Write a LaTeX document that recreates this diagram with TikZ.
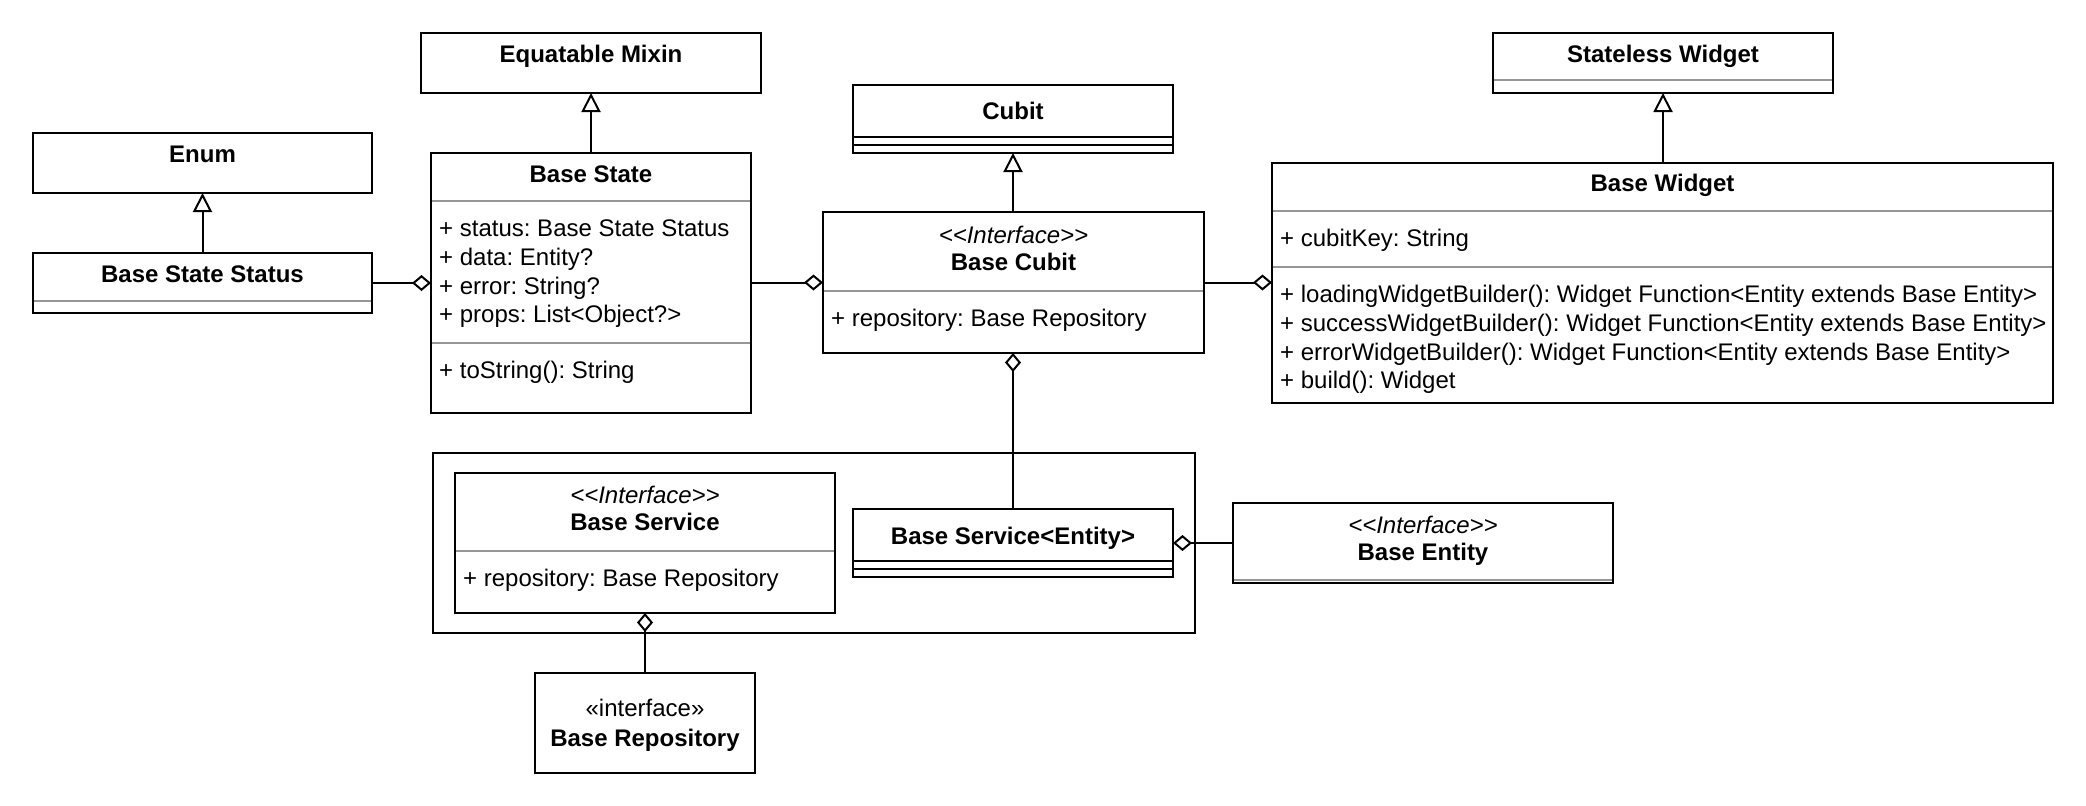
\documentclass[tikz,border=0pt]{standalone}
\usepackage{fontspec}
\setmainfont{Liberation Sans}
\usetikzlibrary{arrows.meta}
\definecolor{sepgray}{RGB}{150,150,150}
\newcommand{\stlt}{\textless\kern0pt\textless}
\newcommand{\stgt}{\textgreater\kern0pt\textgreater}
\begin{document}
\frenchspacing
\begin{tikzpicture}[x=1pt,y=-1pt,
  box/.style={draw=black, line width=2pt, inner sep=0pt, outer sep=0pt, anchor=north west, fill=white},
  sepline/.style={line width=2pt, draw=sepgray},
  blackline/.style={line width=2pt, draw=black},
  title/.style={font=\bfseries\fontsize{24}{28.8}\selectfont, anchor=base, inner sep=0pt},
  stereo/.style={font=\itshape\fontsize{24}{28.8}\selectfont, anchor=base, inner sep=0pt},
  plainc/.style={font=\fontsize{24}{28.8}\selectfont, anchor=base, inner sep=0pt},
  attr/.style={font=\fontsize{24}{28.8}\selectfont, anchor=base west, inner sep=0pt},
  inh/.style={line width=2pt, -{Triangle[open, length=19pt, width=19pt]}},
  agg/.style={line width=2pt, -{Diamond[open, length=19pt, width=16pt]}}
]
\useasboundingbox (0,0) rectangle (2086,806);

% package frame
\node[box, minimum width=762pt, minimum height=180pt] (frame) at (433,453) {};

% Enum
\node[box, minimum width=339pt, minimum height=60pt] (enum) at (33,133) {};
\node[title] (enumt) at (202.5,162.5) {Enum};

% Base State Status
\node[box, minimum width=339pt, minimum height=60pt] (bss) at (33,253) {};
\draw[sepline] (34,301) -- (371,301);
\node[title] (bsst) at (202.5,282.5) {Base State Status};

% Equatable Mixin
\node[box, minimum width=340pt, minimum height=60pt] (em) at (421,33) {};
\node[title] (emt) at (591,62.5) {Equatable Mixin};

% Base State
\node[box, minimum width=320pt, minimum height=260pt] (bstate) at (431,153) {};
\node[title] (bstatet) at (591,182.5) {Base State};
\draw[sepline] (432,201) -- (750,201);
\node[attr] (bsa1) at (439,236.5) {+ status: Base State Status};
\node[attr] (bsa2) at (439,265.3) {+ data: Entity?};
\node[attr] (bsa3) at (439,294.1) {+ error: String?};
\node[attr] (bsa4) at (439,322.9) {+ props: List\textless Object?\textgreater};
\draw[sepline] (432,343) -- (750,343);
\node[attr] (bsm1) at (439,378.5) {+ toString(): String};

% Cubit
\node[box, minimum width=320pt, minimum height=68pt] (cubit) at (853,85) {};
\node[title] (cubitt) at (1013,119.5) {Cubit};
\draw[blackline] (853,137) -- (1173,137);
\draw[blackline] (853,145) -- (1173,145);

% Base Cubit
\node[box, minimum width=381pt, minimum height=141pt] (bcubit) at (823,212) {};
\node[stereo] (bcubits) at (1013.5,243.5) {\stlt Interface\stgt};
\node[title] (bcubitt) at (1013.5,270.5) {Base Cubit};
\draw[sepline] (824,291) -- (1203,291);
\node[attr] (bca1) at (831,326.5) {+ repository: Base Repository};

% Stateless Widget
\node[box, minimum width=340pt, minimum height=60pt] (sw) at (1493,33) {};
\node[title] (swt) at (1663,62.5) {Stateless Widget};
\draw[sepline] (1494,80) -- (1832,80);

% Base Widget
\node[box, minimum width=781pt, minimum height=240pt] (bwidget) at (1272,163) {};
\node[title] (bwidgett) at (1662.5,191.5) {Base Widget};
\draw[sepline] (1273,211) -- (2052,211);
\node[attr] (bwa1) at (1280,246.5) {+ cubitKey: String};
\draw[sepline] (1273,267) -- (2052,267);
\node[attr] (bwm1) at (1280,302.5) {+ loadingWidgetBuilder(): Widget Function\textless Entity extends Base Entity\textgreater};
\node[attr] (bwm2) at (1280,331.3) {+ successWidgetBuilder(): Widget Function\textless Entity extends Base Entity\textgreater};
\node[attr] (bwm3) at (1280,360.1) {+ errorWidgetBuilder(): Widget Function\textless Entity extends Base Entity\textgreater};
\node[attr] (bwm4) at (1280,388.9) {+ build(): Widget};

% Base Service
\node[box, minimum width=380pt, minimum height=140pt] (bservice) at (455,473) {};
\node[stereo] (bservices) at (645,503.5) {\stlt Interface\stgt};
\node[title] (bservicet) at (645,530.5) {Base Service};
\draw[sepline] (456,551) -- (834,551);
\node[attr] (bsva1) at (463,586.5) {+ repository: Base Repository};

% Base Service<Entity>
\node[box, minimum width=320pt, minimum height=68pt] (bse) at (853,509) {};
\node[title] (bset) at (1013,544.5) {Base Service\textless Entity\textgreater};
\draw[blackline] (853,561) -- (1173,561);
\draw[blackline] (853,569) -- (1173,569);

% Base Entity
\node[box, minimum width=380pt, minimum height=80pt] (bentity) at (1233,503) {};
\node[stereo] (bentitys) at (1423,533.5) {\stlt Interface\stgt};
\node[title] (bentityt) at (1423,560.5) {Base Entity};
\draw[sepline] (1234,580) -- (1612,580);

% Base Repository
\node[box, minimum width=220pt, minimum height=100pt] (brepo) at (535,673) {};
\node[plainc] (brepos) at (645,716.5) {«interface»};
\node[title] (brepot) at (645,746.5) {Base Repository};

% inheritance
\draw[inh] (bss.north -| enum.south) -- (enum.south);
\draw[inh] (bstate.north) -- (em.south);
\draw[inh] (cubit.south |- bcubit.north) -- (cubit.south);
\draw[inh] (bwidget.north -| sw.south) -- (sw.south);

% aggregation
\draw[agg] (bss.east) -- (bss.east -| bstate.west);
\draw[agg] (bstate.east |- bcubit.west) -- (bcubit.west);
\draw[agg] (bcubit.east) -- (bcubit.east -| bwidget.west);
\draw[agg] (bse.north) -- (bse.north |- bcubit.south);
\draw[agg] (bentity.west) -- (bentity.west -| bse.east);
\draw[agg] (brepo.north) -- (bservice.south);
\end{tikzpicture}
\end{document}
